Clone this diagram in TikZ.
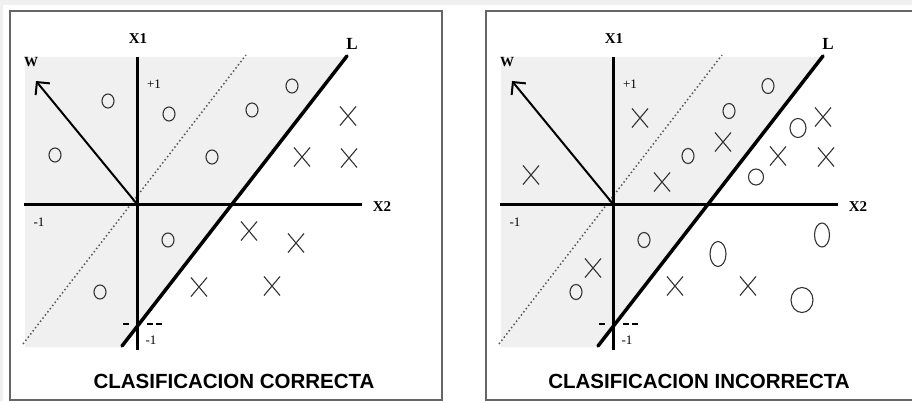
\documentclass[tikz,border=0pt]{standalone}
\usepackage{fontspec}
\setmainfont{Liberation Serif}
\setsansfont{Liberation Sans}
\usetikzlibrary{arrows.meta, positioning, shapes.geometric, shapes.misc}
\tikzset{
    panelbox/.style={draw=black!60, line width=2pt},
    halfplane/.style={fill=black!6},
    axis/.style={line width=3pt},
    sepline/.style={line width=3.5pt, line cap=round},
    margin/.style={black!65, line width=1.5pt, dash pattern=on 1.5pt off 2.5pt},
    ticks/.style={line width=2pt, dash pattern=on 6pt off 18pt on 6pt off 3pt on 6pt},
    wvec/.style={-{Straight Barb[angle=90:13pt]}, line width=2pt},
    omark/.style={ellipse, draw=black!80, line width=1.1pt, minimum width=12pt, minimum height=14pt, inner sep=0pt},
    xmark/.style={cross out, draw=black!80, line width=1.1pt, minimum width=15pt, minimum height=18pt, inner sep=0pt},
    lbl/.style={inner sep=0pt, font=\bfseries\fontsize{15}{18}\selectfont},
    small/.style={inner sep=0pt, font=\fontsize{13}{15}\selectfont},
    ttl/.style={inner sep=0pt, font=\sffamily\bfseries\fontsize{20.5}{24}\selectfont}
}

\begin{document}
\begin{tikzpicture}[x=1pt, y=-1pt]
    \useasboundingbox (0,0) rectangle (912,401);
    \fill[black!6] (0,0) rectangle (912,5);
    \fill[black!6] (0,0) rectangle (3,401);
    % the two panels share box, half plane, axes and labels
    \foreach \p/\dx in {a/0, b/476} {
    \begin{scope}[xshift=\dx pt]
        \draw[panelbox] (10,11) rectangle (442,399.5);
        \coordinate (\p-orig) at (137,204);
        \coordinate (\p-ltop) at (347,56);
        \coordinate (\p-lbot) at (122,346);
        \fill[halfplane] (25,57) -- (345.5,57) -- (121,347) -- (25,347) -- cycle;
        \draw[margin] (23,344) -- (246,55);
        \draw[axis] (137,57) -- (137,350);
        \draw[axis] (24,204) -- (362,204);
        \draw[ticks] (123,324) -- (162,324);
        \draw[sepline] (\p-lbot) -- (\p-ltop);
        \coordinate (\p-wtip) at (36,81);
        \draw[wvec] (\p-orig) -- (\p-wtip);
        \node[lbl] (\p-x1) at (138,39) {X1};
        \node[lbl] (\p-x2) at (382,207) {X2};
        \node[lbl, font=\bfseries\fontsize{17}{20}\selectfont] (\p-l) at (352,44) {L};
        \node[lbl, font=\bfseries\fontsize{14}{16}\selectfont] (\p-w) at (31,62) {W};
        \node[small] (\p-p1) at (154,84) {+1};
        \node[small] (\p-m1) at (39,222) {-1};
        \node[small] (\p-m2) at (151,340) {-1};
    \end{scope}
    }
    % correct classification
    \foreach \x/\y [count=\i] in {108/101, 169/114, 292/86, 252/110, 55/155, 212/157, 168/240, 100/292}
        \node[omark] (a-o\i) at (\x,\y) {};
    \foreach \x/\y [count=\i] in {348/116, 302/157, 349/158, 249/231, 296/243, 199/287, 272/286}
        \node[xmark] (a-x\i) at (\x,\y) {};
    \node[ttl] (a-title) at (234,381) {CLASIFICACION CORRECTA};
    % incorrect classification
    \foreach \x/\y/\w/\h [count=\i] in {768/86/12/15, 729/111/12/15, 798/128/16/19, 688/156/12/15, 756/177/15/16,
        644/240/12/15, 718/254/16/25, 822/235/15/24, 576/292/12/15, 802/300/22/25}
        \node[omark, minimum width=\w pt, minimum height=\h pt] (b-o\i) at (\x,\y) {};
    \foreach \x/\y [count=\i] in {640/118, 723/142, 823/117, 778/156, 826/157, 531/175, 662/182, 593/268, 675/286, 748/286}
        \node[xmark] (b-x\i) at (\x,\y) {};
    \node[ttl] (b-title) at (699,381) {CLASIFICACION INCORRECTA};
\end{tikzpicture}
\end{document}
